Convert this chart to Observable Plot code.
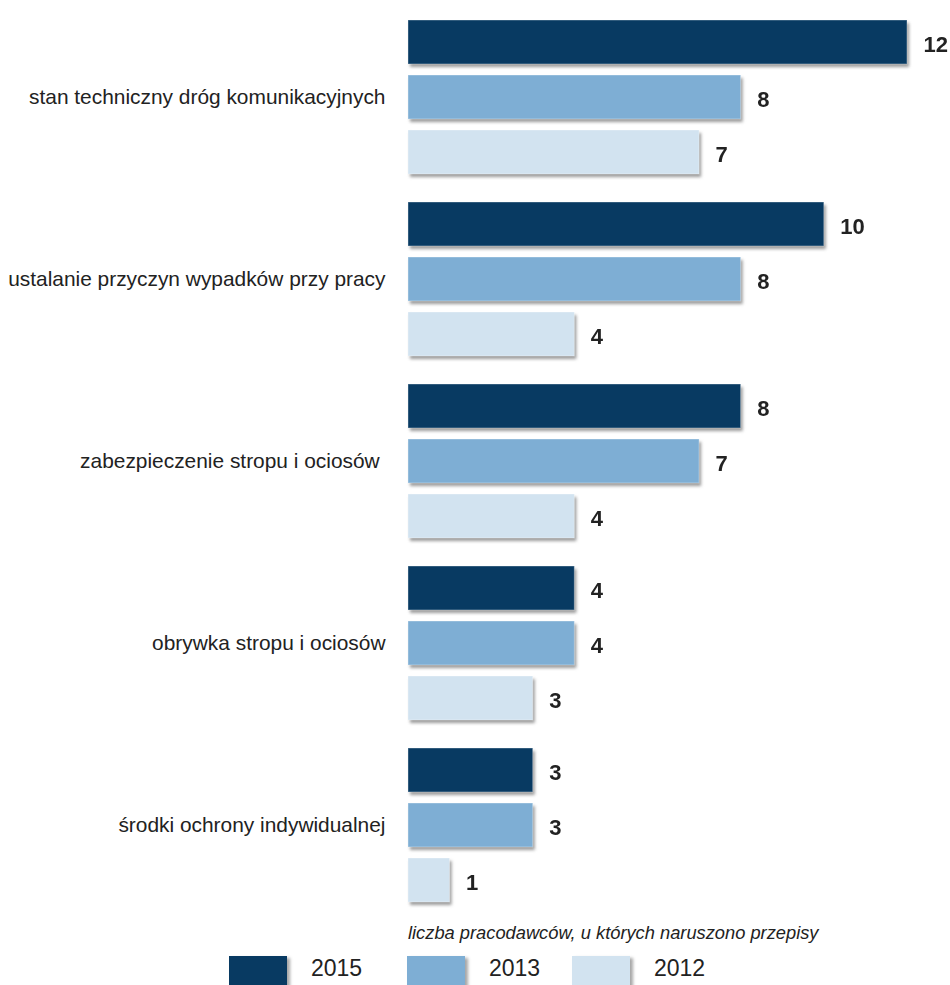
<!DOCTYPE html>
<html>
<head>
<meta charset="utf-8">
<script src="https://cdn.jsdelivr.net/npm/d3@7"></script>
<script src="https://cdn.jsdelivr.net/npm/@observablehq/plot@0.6"></script>
<style>
  html, body { margin: 0; padding: 0; background: #fff; }
  body { width: 950px; height: 985px; position: relative; overflow: hidden; font-family: "Liberation Sans", Arial, sans-serif; }
  #chart { position: absolute; left: 0; top: 0; }
  #chart svg g.shadow { filter: blur(1.2px); }
  #caption { position: absolute; left: 408px; top: 922px; font-size: 18.3px; font-style: italic; color: #222; white-space: nowrap; }
  .lg-sw { position: absolute; width: 58px; height: 40px; box-shadow: 3px 2px 3px rgba(0,0,0,0.35); }
  .lg-tx { position: absolute; font-size: 23px; color: #222; line-height: 1; }
</style>
</head>
<body>
<div id="chart"></div>
<div id="caption"></div>
<div id="legend"></div>
<script>
const categories = [
  "stan techniczny dróg komunikacyjnych",
  "ustalanie przyczyn wypadków przy pracy",
  "zabezpieczenie stropu i ociosów ",
  "obrywka stropu i ociosów",
  "środki ochrony indywidualnej"
];
const years = ["2015", "2013", "2012"];
const values2015 = [12, 10, 8, 4, 3];
const values2013 = [8, 8, 7, 4, 3];
const values2012 = [7, 4, 4, 3, 1];
const colors = ["#083a62", "#7eaed4", "#d2e3f0"];
const captionText = "liczba pracodawców, u których naruszono przepisy";

const seriesByYear = {"2015": values2015, "2013": values2013, "2012": values2012};
const data = [];
categories.forEach((c, i) => {
  years.forEach(y => data.push({category: c, year: y, value: seriesByYear[y][i]}));
});

const chart = Plot.plot({
  width: 950,
  height: 915,
  marginLeft: 408,
  marginRight: 43,
  marginTop: 18,
  marginBottom: 10,
  style: {fontFamily: '"Liberation Sans", Arial, sans-serif', background: "transparent"},
  x: {domain: [0, 12], axis: null},
  y: {domain: years, axis: null, paddingInner: 0.196, paddingOuter: 0},
  fy: {domain: categories, axis: null, paddingInner: 0.14, paddingOuter: 0},
  color: {domain: years, range: colors},
  facet: {data, y: "category"},
  marks: [
    Plot.barX(data, {x: "value", y: "year", fill: "#7a7a7a", fillOpacity: 0.75, dx: 2, dy: 3, className: "shadow"}),
    Plot.barX(data, {x: "value", y: "year", fill: "year", stroke: "#ffffff", strokeOpacity: 0.35, strokeWidth: 1}),
    Plot.text(data, {x: "value", y: "year", text: d => String(d.value), dx: 16, textAnchor: "start", fontWeight: "bold", fontSize: 22, fill: "#222", dy: 2}),
    Plot.text(data, {filter: d => d.year === "2013", x: 0, y: "year", text: "category", dx: -23, textAnchor: "end", fontSize: 20.9, fill: "#222"})
  ]
});
document.getElementById("chart").appendChild(chart);
const groups = chart.querySelectorAll('g[aria-label="bar"]');
if (groups.length) groups[0].classList.add("shadow");

document.getElementById("caption").textContent = captionText;

const legendX = [229, 407, 572];
const legend = document.getElementById("legend");
years.forEach((y, i) => {
  const sw = document.createElement("div");
  sw.className = "lg-sw";
  sw.style.left = legendX[i] + "px";
  sw.style.top = "956px";
  sw.style.background = colors[i];
  legend.appendChild(sw);
  const tx = document.createElement("div");
  tx.className = "lg-tx";
  tx.style.left = (legendX[i] + 82) + "px";
  tx.style.top = "957px";
  tx.textContent = y;
  legend.appendChild(tx);
});
</script>
</body>
</html>
